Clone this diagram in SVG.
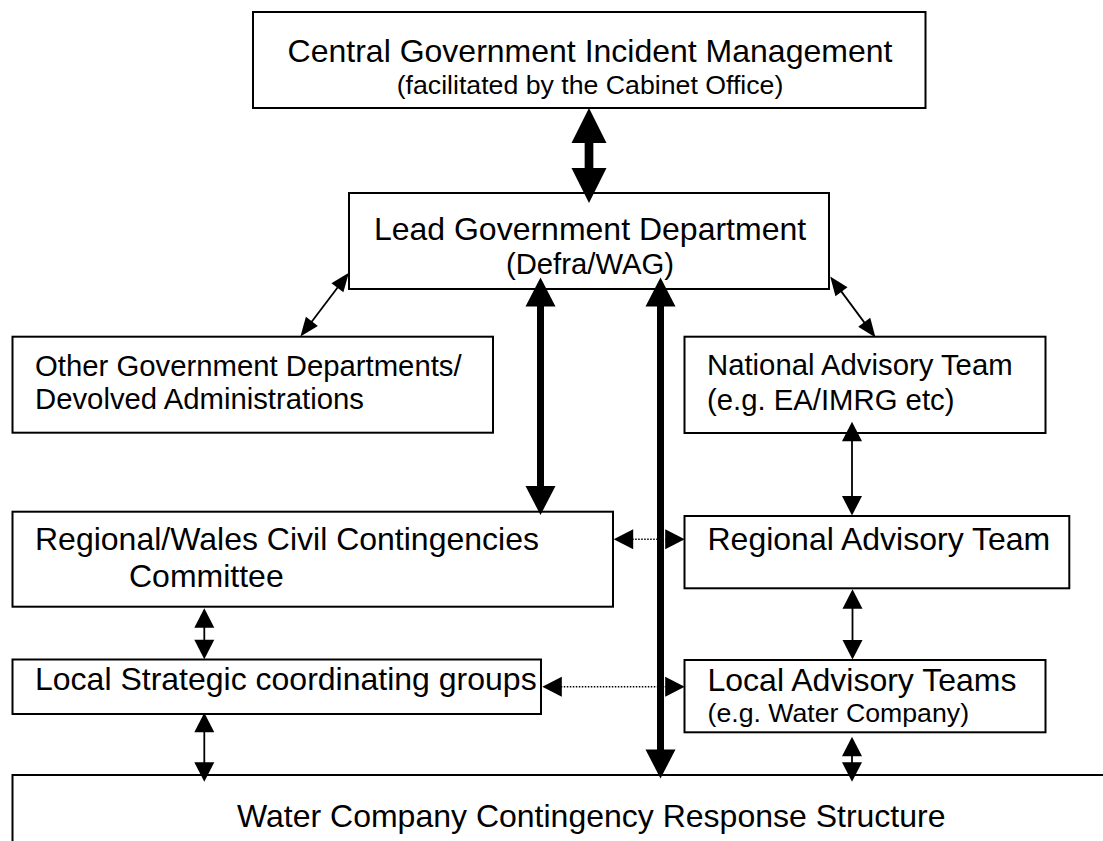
<svg xmlns="http://www.w3.org/2000/svg" width="1103" height="841" viewBox="0 0 1103 841">
<style>
.box{fill:#fff;stroke:#000;stroke-width:2}
.t{font-family:"Liberation Sans",Arial,sans-serif;fill:#000}
.f32{font-size:32px}
.f29{font-size:29.3px}
.f27{font-size:26.7px}
.mid{text-anchor:middle}
.c{stroke:#000;fill:none}
.big{stroke-width:8.7;marker-start:url(#hBig);marker-end:url(#hBig)}
.med{stroke-width:7;marker-start:url(#hMed);marker-end:url(#hMed)}
.sm{stroke-width:1.8;marker-start:url(#hSm);marker-end:url(#hSm)}
.dg{stroke-width:1.8;marker-start:url(#hDg);marker-end:url(#hDg)}
.dot{stroke-width:1.4;stroke-dasharray:1.5 1.5;marker-start:url(#hSm);marker-end:url(#hSm)}
</style>
<defs>
<marker id="hBig" markerUnits="userSpaceOnUse" orient="auto-start-reverse" refX="1" refY="0" markerWidth="40" markerHeight="40" overflow="visible"><path d="M0,-17.5 L35,0 L0,17.5 Z" fill="#000"/></marker>
<marker id="hMed" markerUnits="userSpaceOnUse" orient="auto-start-reverse" refX="1" refY="0" markerWidth="40" markerHeight="40" overflow="visible"><path d="M0,-15 L29,0 L0,15 Z" fill="#000"/></marker>
<marker id="hSm" markerUnits="userSpaceOnUse" orient="auto-start-reverse" refX="1" refY="0" markerWidth="30" markerHeight="30" overflow="visible"><path d="M0,-10 L19.5,0 L0,10 Z" fill="#000"/></marker>
<marker id="hDg" markerUnits="userSpaceOnUse" orient="auto-start-reverse" refX="1" refY="0" markerWidth="30" markerHeight="30" overflow="visible"><path d="M0,-7.5 L19,0 L0,7.5 Z" fill="#000"/></marker>
</defs>

<g id="central">
<rect class="box" x="253" y="12" width="672.5" height="96"/>
<text class="t f32 mid" x="590" y="62">Central Government Incident Management</text>
<text class="t f27 mid" x="590" y="94">(facilitated by the Cabinet Office)</text>
</g>
<g id="lead">
<rect class="box" x="349" y="193" width="480" height="96"/>
<text class="t f32 mid" x="590" y="240">Lead Government Department</text>
<text class="t f29 mid" x="590" y="274">(Defra/WAG)</text>
</g>
<g id="other">
<rect class="box" x="12.5" y="336.7" width="480.5" height="96"/>
<text class="t f29" x="35" y="376">Other Government Departments/</text>
<text class="t f29" x="35" y="409.3">Devolved Administrations</text>
</g>
<g id="national">
<rect class="box" x="684.5" y="336.7" width="361" height="96.3"/>
<text class="t f29" x="707" y="375">National Advisory Team</text>
<text class="t f29" x="707" y="410">(e.g. EA/IMRG etc)</text>
</g>
<g id="regional-wales">
<rect class="box" x="12.5" y="511.7" width="600.5" height="95"/>
<text class="t f32" x="35" y="550">Regional/Wales Civil Contingencies</text>
<text class="t f32" x="129" y="587">Committee</text>
</g>
<g id="regional-advisory">
<rect class="box" x="684.5" y="516" width="384.8" height="72.3"/>
<text class="t f32" x="707.5" y="550">Regional Advisory Team</text>
</g>
<g id="local-strategic">
<rect class="box" x="12.5" y="659.5" width="528.5" height="54.5"/>
<text class="t f32" x="35" y="690">Local Strategic coordinating groups</text>
</g>
<g id="local-advisory">
<rect class="box" x="684.5" y="660" width="361" height="72.3"/>
<text class="t f32" x="707.5" y="690.7">Local Advisory Teams</text>
<text class="t f27" x="707.5" y="721.7">(e.g. Water Company)</text>
</g>
<g id="water">
<rect class="box" x="12.5" y="775" width="1110" height="100"/>
<text class="t f32" x="237" y="826.7">Water Company Contingency Response Structure</text>
</g>

<g id="connectors">
<line class="c big" x1="589" y1="142" x2="589" y2="169"/>
<line class="c med" x1="540.5" y1="305.5" x2="540.5" y2="487"/>
<line class="c med" x1="660.5" y1="305.5" x2="660.5" y2="750.5"/>
<line class="c dg" x1="338" y1="287" x2="311.3" y2="322.2"/>
<line class="c dg" x1="840.9" y1="290.9" x2="864.8" y2="323.1"/>
<line class="c sm" x1="852" y1="440.2" x2="852" y2="497"/>
<line class="c sm" x1="852.5" y1="607.8" x2="852.5" y2="641"/>
<line class="c sm" x1="852" y1="755.2" x2="852" y2="763.2"/>
<line class="c sm" x1="204.3" y1="626.8" x2="204.3" y2="640.8"/>
<line class="c sm" x1="204.3" y1="731.2" x2="204.3" y2="763.2"/>
<line class="c dot" x1="632.2" y1="539.3" x2="666.2" y2="539.3"/>
<line class="c dot" x1="560.8" y1="686.7" x2="666.2" y2="686.7"/>
</g>
</svg>
